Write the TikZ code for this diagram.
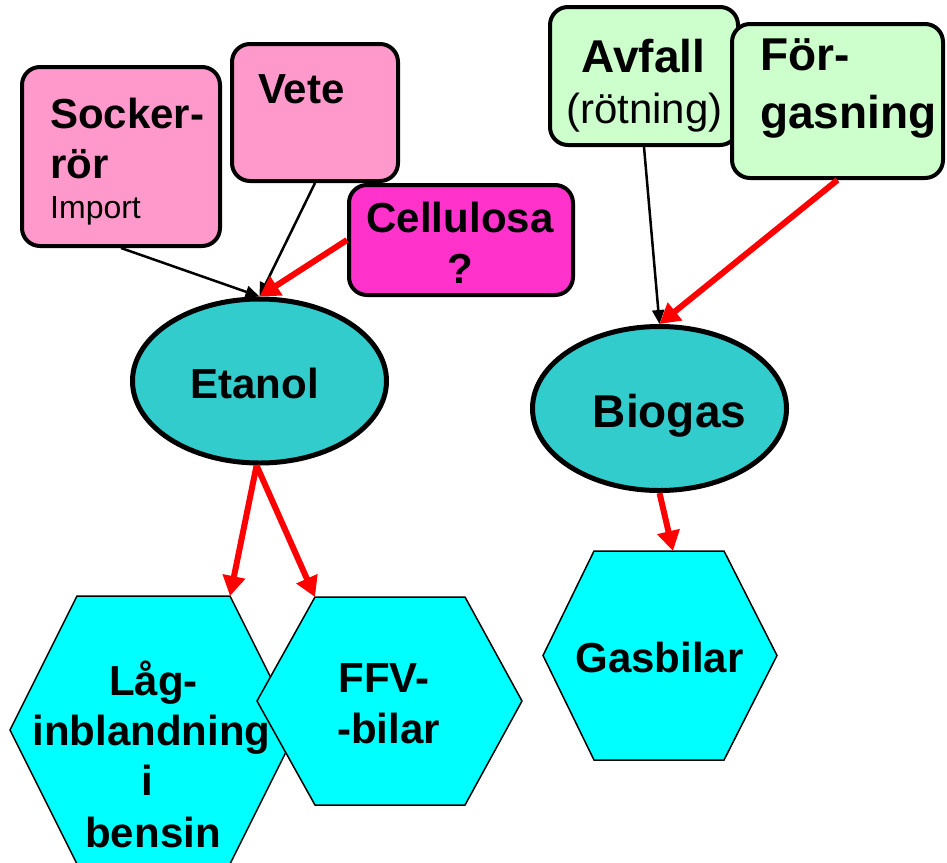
\documentclass[tikz,border=0pt]{standalone}
\usepackage{fontspec}
\setmainfont{Liberation Sans}
\usetikzlibrary{arrows.meta}
\usetikzlibrary{shapes.geometric}

\definecolor{rosa}{HTML}{FF99CC}
\definecolor{magenta2}{HTML}{FF33CC}
\definecolor{ljusgron}{HTML}{CCFFCC}
\definecolor{turkos}{HTML}{33CCCC}
\definecolor{cyan2}{HTML}{00FFFF}

\begin{document}
\begin{tikzpicture}[x=1pt,y=-1pt,
  box/.style={draw,line width=4pt,rounded corners=18pt,inner sep=0pt},
  oval/.style={ellipse,draw,line width=5pt,fill=turkos,inner sep=0pt,minimum width=254pt,minimum height=164pt},
  hexa/.style={draw,line width=1.5pt,fill=cyan2},
  big/.style={font=\fontsize{42}{50}\selectfont\bfseries,inner sep=0pt,anchor=base},
  bigger/.style={font=\fontsize{46}{54}\selectfont\bfseries,inner sep=0pt,anchor=base},
  blackarrow/.style={line width=2.5pt,-{Triangle[length=14pt,width=12pt]}},
  redarrow/.style={red,line width=6pt,-{Triangle[length=20pt,width=22pt]}}]
\useasboundingbox (0,0) rectangle (947,862);
% boxes
\node[box,fill=rosa,minimum width=198pt,minimum height=179pt] (socker) at (121,156.5) {};
\node[box,fill=rosa,minimum width=166pt,minimum height=137pt] (vete) at (315,112.5) {};
\node[box,fill=magenta2,minimum width=224pt,minimum height=110pt] (cell) at (461,240) {};
\node[box,fill=ljusgron,minimum width=188pt,minimum height=138pt] (avfall) at (644,76) {};
\node[box,fill=ljusgron,minimum width=211pt,minimum height=154pt] (forg) at (837.5,101) {};
\node[big,anchor=base west] (socker-a) at (50,128) {Socker-};
\node[big,anchor=base west] (socker-b) at (50,178) {rör};
\node[font=\fontsize{32}{38}\selectfont,inner sep=0pt,anchor=base west] (socker-c) at (50,218) {Import};
\node[big,anchor=base west] (vete-a) at (258,103) {Vete};
\node[big] (cell-a) at (460,232) {Cellulosa};
\node[big] (cell-b) at (460,283) {?};
\node[bigger] (avfall-a) at (643.5,72) {Avfall};
\node[font=\fontsize{42}{50}\selectfont,inner sep=0pt,anchor=base] (avfall-b) at (644.5,123) {(rötning)};
\node[bigger,anchor=base west] (forg-a) at (760,70) {För-};
\node[bigger,anchor=base west] (forg-b) at (760,128) {gasning};
% ellipses
\node[oval] (etanol) at (259.5,381) {};
\node[big] at (254.5,398) {Etanol};
\node[oval] (biogas) at (659.5,408.5) {};
\node[bigger] at (669.5,427) {Biogas};
% hexagons
\draw[hexa] (10,730) -- (77,596) -- (230,596) coordinate (lagNE) -- (297,730) -- (230,864) -- (77,864) -- cycle;
\draw[hexa] (257,701) -- (315,597) coordinate (ffvNW) -- (465,597) -- (522,701) -- (465,805) -- (315,805) -- cycle;
\draw[hexa] (543,655.5) -- (594,551) -- (724,551) -- (777,655.5) -- (724,760) -- (594,760) -- cycle;
\coordinate (gasN) at (673,551);
\node[big] (lag-a) at (153.5,695) {Låg-};
\node[big] (lag-b) at (151.5,745) {inblandning};
\node[big] (lag-c) at (147,795) {i};
\node[big] (lag-d) at (153,847) {bensin};
\node[big] (ffv-a) at (384,692) {FFV-};
\node[big] (ffv-b) at (388.5,743) {-bilar};
\node[big] (gas-a) at (659.5,672) {Gasbilar};
% arrows
\draw[blackarrow] (socker.south) -- (etanol.north);
\draw[blackarrow] (vete.south) -- (etanol.north);
\draw[redarrow] (cell.west) -- (etanol.north);
\draw[blackarrow] (avfall.south) -- (biogas.north);
\draw[redarrow] (forg.south) -- (biogas.north);
\draw[redarrow] (etanol.268) -- (lagNE);
\draw[redarrow] (etanol.268) -- (ffvNW);
\draw[redarrow] (biogas.south) -- (gasN);
\end{tikzpicture}
\end{document}
